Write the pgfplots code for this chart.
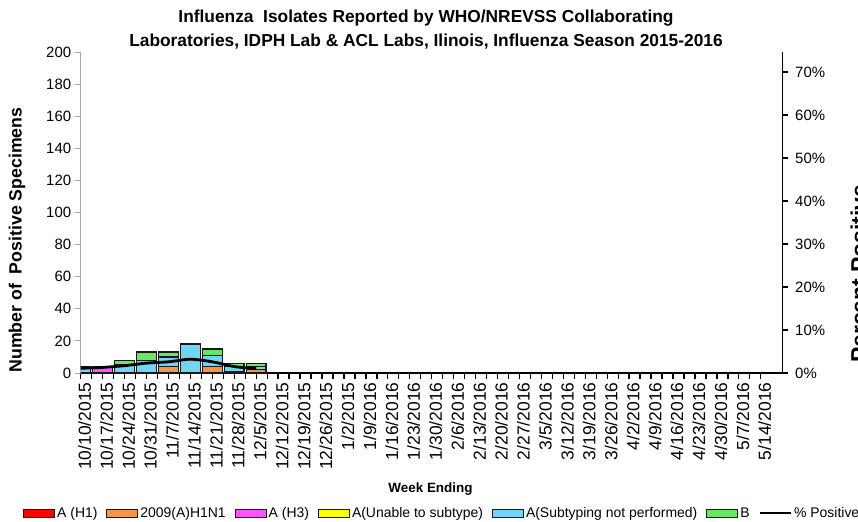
\documentclass[border=0pt]{standalone}
\usepackage{pgfplots}
\pgfplotsset{compat=1.18}
\usepackage{fontspec}
\setmainfont{Liberation Sans}
\definecolor{cH1}{HTML}{FF0000}
\definecolor{cPdm}{HTML}{F7964A}
\definecolor{cH3}{HTML}{FF55FF}
\definecolor{cUn}{HTML}{FFFF00}
\definecolor{cNp}{HTML}{72D5F5}
\definecolor{cB}{HTML}{66E866}
\definecolor{axgray}{HTML}{A6A6A6}
\pgfplotsset{
  barleg/.style={legend image code/.code={\draw[##1, line width=1bp] (0bp,-4bp) rectangle (31bp,4bp);}},
  lineleg/.style={legend image code/.code={\draw[##1] (0bp,0bp) -- (31bp,0bp);}},
}
\begin{document}
\begin{tikzpicture}
\begin{axis}[
  at={(0bp,0bp)}, anchor=south west,
  scale only axis, width=702bp, height=321bp,
  xmin=0, xmax=32, ymin=0, ymax=200,
  ybar stacked, bar width=0.9,
  axis x line*=bottom, axis y line*=left,
  x axis line style={black, line width=1.6bp, -},
  y axis line style={axgray, line width=1bp, -},
  /pgf/number format/assume math mode=true,
  tick align=outside, major tick length=6bp, minor tick length=6bp,
  ytick={0,20,...,200},
  ytick style={axgray, line width=1bp},
  yticklabel style={font=\fontsize{15}{18}\selectfont},
  xtick={0,...,31},
  minor xtick={0.5,1.5,...,30.5},
  xtick style={black, line width=1.3bp},
  minor x tick style={black, line width=1.3bp},
  xticklabels={10/10/2015,10/17/2015,10/24/2015,10/31/2015,11/7/2015,11/14/2015,11/21/2015,11/28/2015,12/5/2015,12/12/2015,12/19/2015,12/26/2015,1/2/2015,1/9/2016,1/16/2016,1/23/2016,1/30/2016,2/6/2016,2/13/2016,2/20/2016,2/27/2016,3/5/2016,3/12/2016,3/19/2016,3/26/2016,4/2/2016,4/9/2016,4/16/2016,4/23/2016,4/30/2016,5/7/2016,5/14/2016},
  xticklabel style={rotate=90, anchor=east, yshift=-4bp, font=\fontsize{17.5}{19}\selectfont},
  legend style={at={(-57.7bp,-140bp)}, anchor=west, draw=none, fill=none,
    font=\fontsize{14}{16}\selectfont, inner sep=0pt,
    /tikz/every even column/.append style={column sep=7bp},
    legend cell align=left},
  legend columns=7,
  every axis plot/.append style={draw=black!90, line width=1.3bp, barleg},
]
\addplot[fill=cH1] coordinates {(0,0) (1,0) (2,0) (3,0) (4,0) (5,0) (6,0) (7,0) (8,0)};
\addplot[fill=cPdm] coordinates {(0,0) (1,0) (2,0) (3,0) (4,4) (5,0) (6,4) (7,1) (8,2)};
\addplot[fill=cH3] coordinates {(0,0) (1,4) (2,0) (3,0) (4,0) (5,0) (6,0) (7,0) (8,0)};
\addplot[fill=cUn] coordinates {(0,0) (1,0) (2,0) (3,0) (4,0) (5,0) (6,0) (7,0) (8,0)};
\addplot[fill=cNp] coordinates {(0,4) (1,0) (2,5) (3,8) (4,6) (5,18) (6,7) (7,3) (8,2)};
\addplot[fill=cB] coordinates {(0,0) (1,0) (2,3) (3,5) (4,3) (5,0) (6,4) (7,2) (8,2)};
\legend{A (H1),2009(A)H1N1,A (H3),A(Unable to subtype),A(Subtyping not performed),B}
\addlegendimage{black, line width=2.5bp, lineleg}
\addlegendentry{\% Positive}
\end{axis}
\begin{axis}[
  at={(0bp,0bp)}, anchor=south west,
  scale only axis, width=702bp, height=321bp,
  xmin=0, xmax=32, ymin=0, ymax=74.65,
  axis x line=none, axis y line*=right,
  y axis line style={black, line width=1.2bp, -},
  tick align=outside, major tick length=5bp,
  ytick={0,10,...,70},
  ytick style={black, line width=1.1bp},
  yticklabel={\pgfmathprintnumber{\tick}\%},
  /pgf/number format/assume math mode=true,
  yticklabel style={font=\fontsize{15}{18}\selectfont, xshift=4bp},
]
\addplot[black, line width=2.8bp, smooth, tension=0.5] coordinates {(0,1.1) (1,1.3) (2,1.7) (3,2.3) (4,2.6) (5,3.2) (6,2.6) (7,1.5) (8,1.0)};
\end{axis}
\node[align=center, font=\fontsize{17.4}{24}\selectfont\bfseries] at (345.3bp,343bp) {Influenza\ \ Isolates Reported by WHO/NREVSS Collaborating\\Laboratories, IDPH Lab \& ACL Labs, Ilinois, Influenza Season 2015-2016};
\node[rotate=90, font=\fontsize{17.8}{20}\selectfont\bfseries] at (-63.7bp,133bp) {Number of\ \ Positive Specimens};
\node[font=\fontsize{13.5}{16}\selectfont\bfseries] at (349.8bp,-116bp) {Week Ending};
\node[rotate=90, anchor=north west, inner sep=0pt, font=\fontsize{23}{26}\selectfont\bfseries] at (769.5bp,10bp) {Percent Positive};
\pgfresetboundingbox
\path[use as bounding box] (-80.7bp,-149bp) rectangle (777.3bp,373bp);
\end{tikzpicture}
\end{document}
